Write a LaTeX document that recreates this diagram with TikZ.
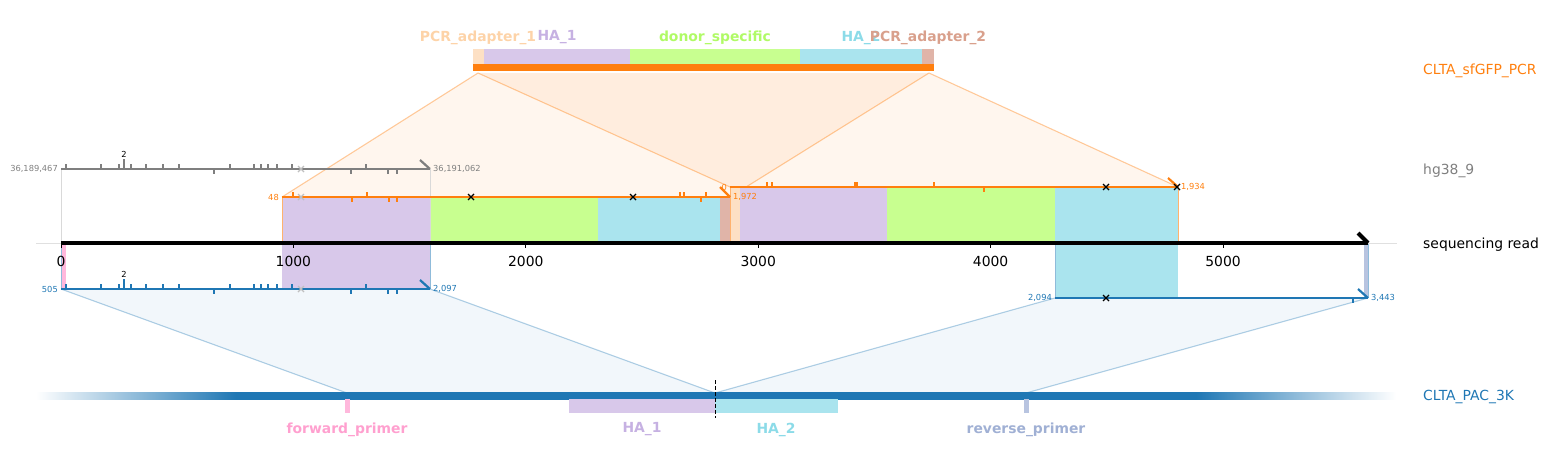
\documentclass[tikz,border=0pt]{standalone}
\usepackage{fontspec}
\setmainfont{DejaVu Sans}
\usetikzlibrary{arrows.meta}
\definecolor{tabblue}{HTML}{1F77B4}
\definecolor{taborange}{HTML}{FF7F0E}
\definecolor{tabgray}{HTML}{7F7F7F}
\definecolor{pcrAfill}{HTML}{FDE0C4}
\definecolor{pcrAtext}{HTML}{FDD3A8}
\definecolor{haAfill}{HTML}{D8C8EA}
\definecolor{haAtext}{HTML}{C6B1E2}
\definecolor{donorfill}{HTML}{C8FF90}
\definecolor{donortext}{HTML}{B0FA66}
\definecolor{haBfill}{HTML}{AAE4EE}
\definecolor{haBtext}{HTML}{8CDBE8}
\definecolor{pcrBfill}{HTML}{E0B4A8}
\definecolor{pcrBtext}{HTML}{D9A08C}
\definecolor{fwdfill}{HTML}{FFB8DC}
\definecolor{fwdtext}{HTML}{FFA0CF}
\definecolor{revfill}{HTML}{B8C4E0}
\definecolor{revtext}{HTML}{A0B0D4}
\pgfdeclarehorizontalshading{pacbar}{100bp}{color(0bp)=(white); color(25bp)=(white); color(32.35bp)=(tabblue); color(67.65bp)=(tabblue); color(75bp)=(white); color(100bp)=(white)}
\newcommand{\xcross}[3]{\draw[#3, line width=1.3pt] (#1-3,#2-3) -- (#1+3,#2+3) (#1-3,#2+3) -- (#1+3,#2-3);}

\begin{document}
\begin{tikzpicture}[x=1pt, y=-1pt,
  every node/.style={font=\fontsize{13.9}{16}\selectfont, inner sep=0pt},
  tracklabel/.style={anchor=west, yshift=-1.5pt},
  featlabel/.style={font=\fontsize{13.9}{16}\selectfont\bfseries, yshift=-1.5pt},
  coordlabel/.style={font=\fontsize{8.3}{10}\selectfont},
  aln/.style={line width=2.2pt},
  mism/.style={line width=1.8pt},
  outline/.style={line width=0.8pt},
  fanorange/.style={fill=taborange, fill opacity=0.07},
  fanblue/.style={fill=tabblue, fill opacity=0.06},
  fanedge/.style={line width=1.1pt, draw opacity=0.4}
]
\useasboundingbox (0,0) rectangle (1549,464);

% reference points of the alignments
\coordinate (pcrL) at (478,73);
\coordinate (pcrR) at (929,73);
\coordinate (alnAL) at (282,197);
\coordinate (alnAR) at (730,197);
\coordinate (alnBL) at (730,187);
\coordinate (alnBR) at (1178,187);
\coordinate (pacAL) at (61,289);
\coordinate (pacAR) at (430,289);
\coordinate (pacBL) at (1055,298);
\coordinate (pacBR) at (1368,298);
\coordinate (fwdP) at (347,393);
\coordinate (cutP) at (715,393);
\coordinate (revP) at (1026,393);

% fans
\fill[fanorange] (pcrL) -- (pcrR) -- (alnAR) -- (alnAL) -- cycle;
\fill[fanorange] (pcrL) -- (pcrR) -- (alnBR) -- (alnBL) -- cycle;
\draw[fanedge, taborange] (pcrL) -- (alnAL) (pcrR) -- (alnAR) (pcrL) -- (alnBL) (pcrR) -- (alnBR);
\fill[fanblue] (pacAL) -- (pacAR) -- (cutP) -- (fwdP) -- cycle;
\fill[fanblue] (pacBL) -- (pacBR) -- (revP) -- (cutP) -- cycle;
\draw[fanedge, tabblue, draw opacity=0.35] (pacAL) -- (fwdP) (pacAR) -- (cutP) (pacBL) -- (cutP) (pacBR) -- (revP);

% CLTA_sfGFP_PCR
\fill[pcrAfill] (473,49) rectangle (484,64);
\fill[haAfill] (484,49) rectangle (630,64);
\fill[donorfill] (630,49) rectangle (800,64);
\fill[haBfill] (800,49) rectangle (922,64);
\fill[pcrBfill] (922,49) rectangle (934,64);
\fill[taborange] (473,64) rectangle (934,71);
\node[featlabel, text=pcrAtext] (pcrAlab) at (478,36) {PCR\_adapter\_1};
\node[featlabel, text=haAtext] (haAlab) at (557,36) {HA\_1};
\node[featlabel, text=donortext] (donorlab) at (715,36) {donor\_specific};
\node[featlabel, text=haBtext] (haBlab) at (861,36) {HA\_2};
\node[featlabel, text=pcrBtext] (pcrBlab) at (928,36) {PCR\_adapter\_2};

% features on the read
\fill[haAfill] (282,197) rectangle (430,289);
\fill[donorfill] (430,197) rectangle (598,243);
\fill[haBfill] (598,197) rectangle (720,243);
\fill[pcrBfill] (720,197) rectangle (730,243);
\fill[pcrAfill] (730,187) rectangle (740,243);
\fill[haAfill] (740,187) rectangle (887,243);
\fill[donorfill] (887,187) rectangle (1055,243);
\fill[haBfill] (1055,187) rectangle (1178,298);
\fill[fwdfill] (62,243) rectangle (66,289);
\fill[revfill] (1364,243) rectangle (1369,298);

% alignment outlines
\draw[outline, black!15] (61,169) -- (61,243) (430,169) -- (430,243);
\draw[outline, taborange!60] (282,197) -- (282,243) (730,187) -- (730,243) (1178,187) -- (1178,243);
\draw[outline, tabblue!50] (61,243) -- (61,289) (430,243) -- (430,289) (1055,243) -- (1055,298) (1368,243) -- (1368,298);

% sequencing read
\draw[black!12, line width=0.8pt] (36,243) -- (1397,243);
\draw[line width=4pt] (61,243) -- (1368,243);
\draw[line width=4pt] (1358,233) -- (1368,243);
\foreach \v [count=\i from 0] in {0,1000,2000,3000,4000,5000} {
  \draw[line width=1pt] (61+232.4*\i,243) -- (61+232.4*\i,248);
  \node (tick\v) at (61+232.4*\i,261) {\v};
}

% hg38_9
\draw[aln, tabgray] (61,169) -- (430,169);
\draw[aln, tabgray] (420,160) -- (430,169);
\foreach \x in {66,101,119,131,146,163,179,230,254,261,268,277,292,366}
  \draw[mism, tabgray] (\x,169) -- (\x,164);
\foreach \x in {214,351,388,397}
  \draw[mism, tabgray] (\x,169) -- (\x,174);
\draw[mism, tabgray] (124,169) -- (124,159);
\node[coordlabel] (hgtwo) at (124,154) {2};
\xcross{301}{169}{black!25}
\node[coordlabel, anchor=east, text=tabgray] (hgstart) at (58,169) {36,189,467};
\node[coordlabel, anchor=west, text=tabgray] (hgend) at (433,169) {36,191,062};

% CLTA_sfGFP_PCR alignments
\draw[aln, taborange] (alnAL) -- (alnAR);
\foreach \x in {293,367,680,684,706}
  \draw[mism, taborange] (\x,197) -- (\x,192);
\foreach \x in {352,389,397,701}
  \draw[mism, taborange] (\x,197) -- (\x,202);
\xcross{301}{197}{black!25}
\xcross{471}{197}{black}
\xcross{633}{197}{black}
\node[coordlabel, anchor=east, text=taborange] (alnAstart) at (279,197) {48};
\node[coordlabel, anchor=west, text=taborange] (alnAend) at (733,197) {1,972};
\node[coordlabel, anchor=east, text=taborange] (alnBstart) at (727,187) {0};
\draw[aln, taborange] (720,187) -- (alnAR);
\draw[aln, taborange] (alnBL) -- (alnBR);
\draw[aln, taborange] (1168,178) -- (alnBR);
\foreach \x in {767,772,855,857,934}
  \draw[mism, taborange] (\x,187) -- (\x,182);
\draw[mism, taborange] (984,187) -- (984,192);
\xcross{1106}{187}{black}
\xcross{1177}{187}{black}
\node[coordlabel, anchor=west, text=taborange] (alnBend) at (1181,187) {1,934};

% CLTA_PAC_3K alignments
\draw[aln, tabblue] (pacAL) -- (pacAR);
\draw[aln, tabblue] (420,280) -- (pacAR);
\foreach \x in {66,101,119,131,146,163,179,230,254,261,268,277,292,366}
  \draw[mism, tabblue] (\x,289) -- (\x,284);
\foreach \x in {214,351,388,397}
  \draw[mism, tabblue] (\x,289) -- (\x,294);
\draw[mism, tabblue] (124,289) -- (124,279);
\node[coordlabel] (pactwo) at (124,274) {2};
\xcross{301}{289}{black!25}
\node[coordlabel, anchor=east, text=tabblue] (pacAstart) at (58,289) {505};
\node[coordlabel, anchor=west, text=tabblue] (pacAend) at (433,289) {2,097};
\draw[aln, tabblue] (pacBL) -- (pacBR);
\draw[aln, tabblue] (1358,289) -- (pacBR);
\draw[mism, tabblue] (1353,298) -- (1353,303);
\xcross{1106}{298}{black}
\node[coordlabel, anchor=east, text=tabblue] (pacBstart) at (1052,298) {2,094};
\node[coordlabel, anchor=west, text=tabblue] (pacBend) at (1371,298) {3,443};

% CLTA_PAC_3K
\shade[shading=pacbar] (36,392) rectangle (1396,399);
\fill[fwdfill] (345,399) rectangle (350,413);
\fill[haAfill] (569,399) rectangle (715,413);
\fill[haBfill] (715,399) rectangle (838,413);
\fill[revfill] (1024,399) rectangle (1029,413);
\draw[line width=1pt, dash pattern=on 4pt off 2pt] (715,380) -- (715,418);
\node[featlabel, text=fwdtext] (fwdlab) at (347,428) {forward\_primer};
\node[featlabel, text=haAtext] (haAbot) at (642,428) {HA\_1};
\node[featlabel, text=haBtext] (haBbot) at (776,428) {HA\_2};
\node[featlabel, text=revtext] (revlab) at (1026,428) {reverse\_primer};

% track names
\node[tracklabel, text=taborange] (pcrname) at (1423,69) {CLTA\_sfGFP\_PCR};
\node[tracklabel, text=tabgray] (hgname) at (1423,169) {hg38\_9};
\node[tracklabel] (readname) at (1423,243) {sequencing read};
\node[tracklabel, text=tabblue] (pacname) at (1423,395) {CLTA\_PAC\_3K};
\end{tikzpicture}
\end{document}
